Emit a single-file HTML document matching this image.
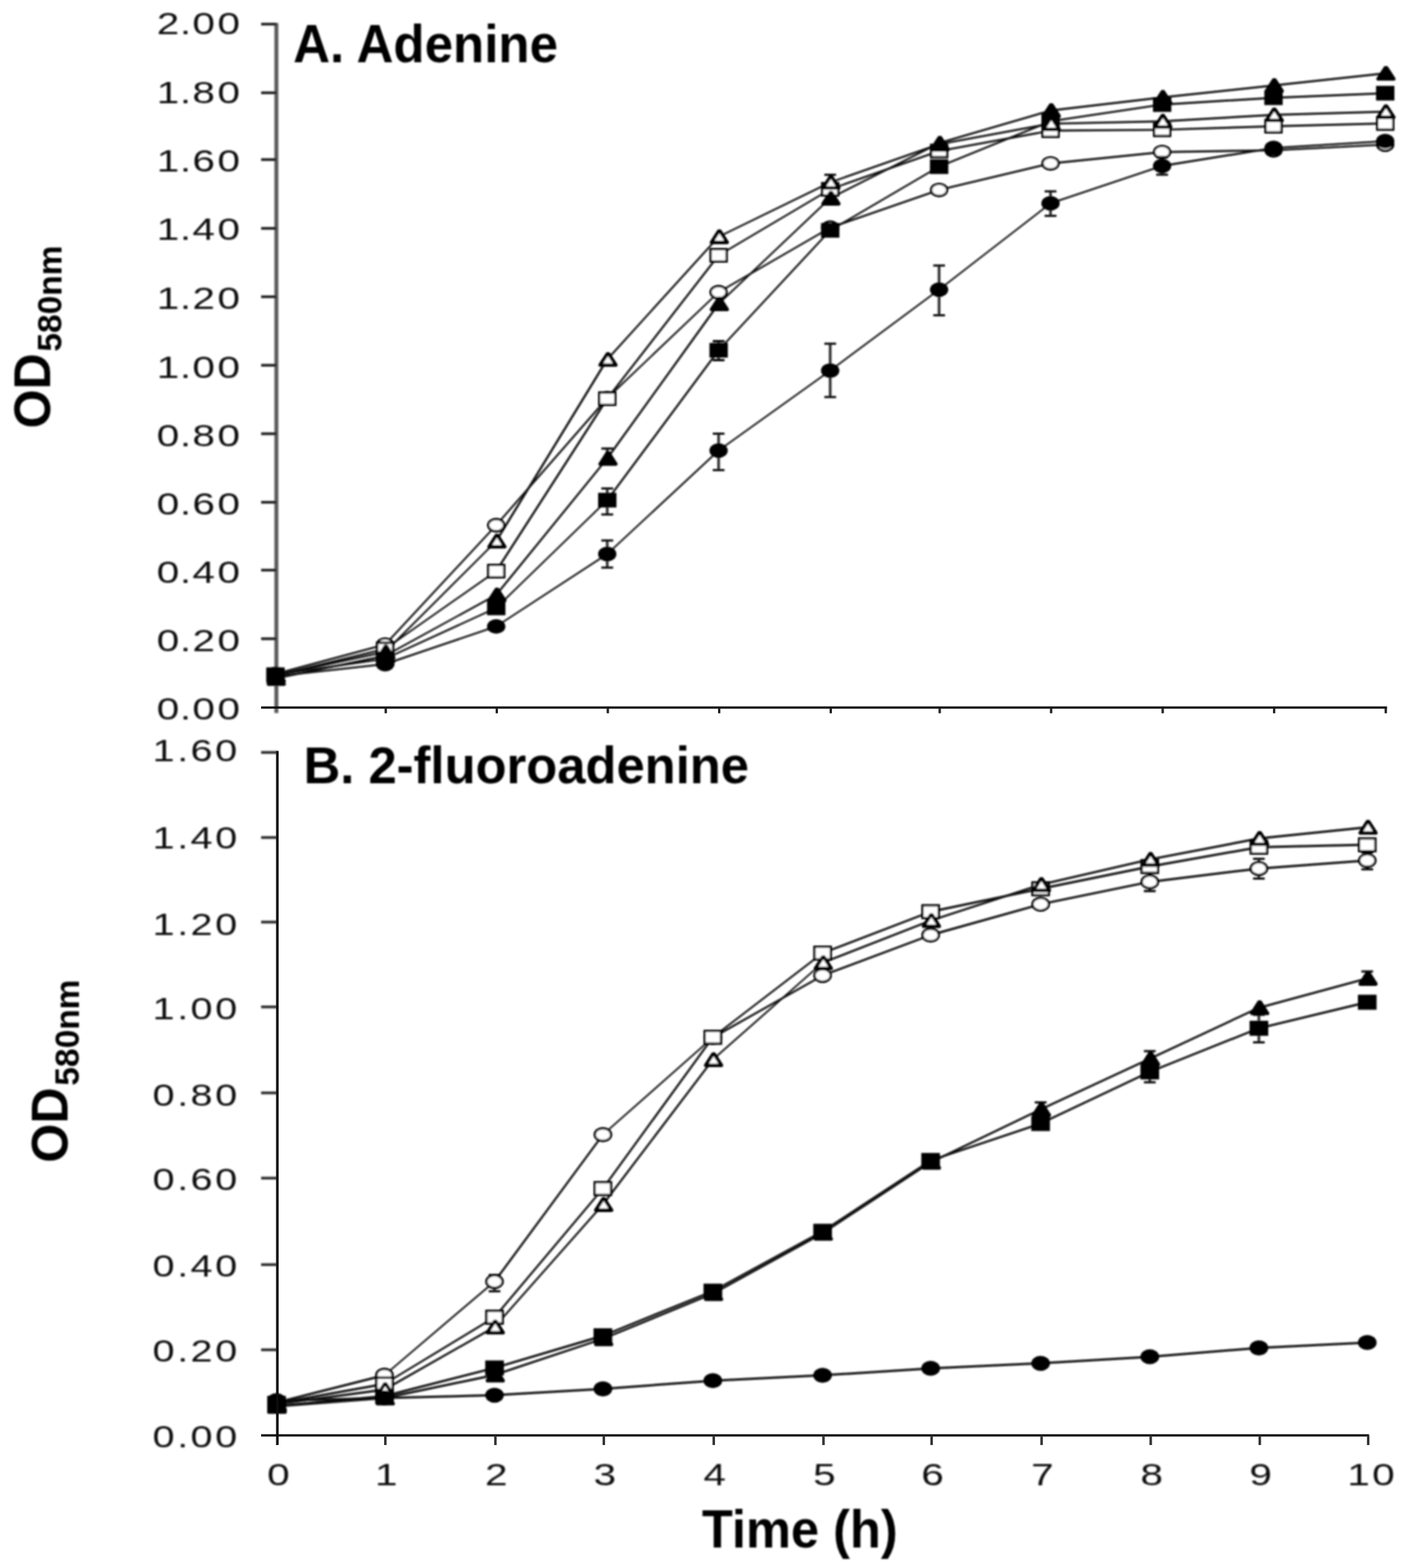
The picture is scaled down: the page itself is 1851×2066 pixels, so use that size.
<!DOCTYPE html>
<html lang="en"><head><meta charset="utf-8"><title>Growth curves</title>
<style>
html,body{margin:0;padding:0;background:#fff;}
body{width:1851px;height:2066px;overflow:hidden;}
svg{display:block;}
text{font-family:"Liberation Sans",Arial,Helvetica,sans-serif;fill:#000;}
.tk{font-weight:400;fill:#111;}
.b{font-weight:700;}
</style></head><body>
<svg width="1851" height="2066" viewBox="0 0 1851 2066">
<defs><filter id="bl" x="-2%" y="-2%" width="104%" height="104%"><feGaussianBlur stdDeviation="0.9"/></filter><filter id="bl2" x="-2%" y="-2%" width="104%" height="104%"><feGaussianBlur stdDeviation="0.45"/></filter></defs>
<rect width="1851" height="2066" fill="#fff"/>
<g filter="url(#bl)">
<line x1="364.1" y1="30.2" x2="364.1" y2="939.6" stroke="#5a5a5a" stroke-width="5.2"/>
<line x1="344" y1="31.8" x2="364" y2="31.8" stroke="#1c1c1c" stroke-width="3.5"/>
<text transform="translate(286.5,45.0) scale(1.3,1)" x="-61.54 -38.00 -25.31 0.00" font-size="41" class="tk">2.00</text>
<line x1="344" y1="122.3" x2="364" y2="122.3" stroke="#1c1c1c" stroke-width="3.5"/>
<text transform="translate(286.5,135.5) scale(1.3,1)" x="-61.54 -38.00 -25.31 0.00" font-size="41" class="tk">1.80</text>
<line x1="344" y1="210.3" x2="364" y2="210.3" stroke="#1c1c1c" stroke-width="3.5"/>
<text transform="translate(286.5,226.3) scale(1.3,1)" x="-61.54 -38.00 -25.31 0.00" font-size="41" class="tk">1.60</text>
<line x1="344" y1="300.9" x2="364" y2="300.9" stroke="#1c1c1c" stroke-width="3.5"/>
<text transform="translate(286.5,316.0) scale(1.3,1)" x="-61.54 -38.00 -25.31 0.00" font-size="41" class="tk">1.40</text>
<line x1="344" y1="391.0" x2="364" y2="391.0" stroke="#1c1c1c" stroke-width="3.5"/>
<text transform="translate(286.5,407.2) scale(1.3,1)" x="-61.54 -38.00 -25.31 0.00" font-size="41" class="tk">1.20</text>
<line x1="344" y1="481.3" x2="364" y2="481.3" stroke="#1c1c1c" stroke-width="3.5"/>
<text transform="translate(286.5,497.8) scale(1.3,1)" x="-61.54 -38.00 -25.31 0.00" font-size="41" class="tk">1.00</text>
<line x1="344" y1="571.5" x2="364" y2="571.5" stroke="#1c1c1c" stroke-width="3.5"/>
<text transform="translate(286.5,588.2) scale(1.3,1)" x="-61.54 -38.00 -25.31 0.00" font-size="41" class="tk">0.80</text>
<line x1="344" y1="661.8" x2="364" y2="661.8" stroke="#1c1c1c" stroke-width="3.5"/>
<text transform="translate(286.5,678.1) scale(1.3,1)" x="-61.54 -38.00 -25.31 0.00" font-size="41" class="tk">0.60</text>
<line x1="344" y1="751.2" x2="364" y2="751.2" stroke="#1c1c1c" stroke-width="3.5"/>
<text transform="translate(286.5,767.5) scale(1.3,1)" x="-61.54 -38.00 -25.31 0.00" font-size="41" class="tk">0.40</text>
<line x1="344" y1="841.6" x2="364" y2="841.6" stroke="#1c1c1c" stroke-width="3.5"/>
<text transform="translate(286.5,857.9) scale(1.3,1)" x="-61.54 -38.00 -25.31 0.00" font-size="41" class="tk">0.20</text>
<text transform="translate(286.5,947.9) scale(1.3,1)" x="-61.54 -38.00 -25.31 0.00" font-size="41" class="tk">0.00</text>
<g stroke="#0c0c0c" stroke-linecap="round"><line x1="363.0" y1="888.0" x2="507.4" y2="849.3" stroke-width="2.61"/><line x1="507.4" y1="849.3" x2="653.7" y2="692.0" stroke-width="2.45"/><line x1="653.7" y1="692.0" x2="800.0" y2="524.6" stroke-width="2.52"/><line x1="800.0" y1="524.6" x2="946.7" y2="385.0" stroke-width="2.31"/><line x1="946.7" y1="385.0" x2="1093.7" y2="300.0" stroke-width="2.34"/><line x1="1093.7" y1="300.0" x2="1237.2" y2="250.3" stroke-width="2.55"/><line x1="1237.2" y1="250.3" x2="1384.0" y2="215.3" stroke-width="2.63"/><line x1="1384.0" y1="215.3" x2="1531.0" y2="200.3" stroke-width="2.69"/><line x1="1531.0" y1="200.3" x2="1677.8" y2="198.0" stroke-width="2.70"/><line x1="1677.8" y1="198.0" x2="1824.9" y2="190.5" stroke-width="2.70"/></g>
<g stroke="#0c0c0c" stroke-linecap="round"><line x1="363.0" y1="890.0" x2="507.4" y2="855.0" stroke-width="2.62"/><line x1="507.4" y1="855.0" x2="653.7" y2="752.5" stroke-width="2.21"/><line x1="653.7" y1="752.5" x2="800.0" y2="525.3" stroke-width="2.82"/><line x1="800.0" y1="525.3" x2="946.7" y2="336.4" stroke-width="2.65"/><line x1="946.7" y1="336.4" x2="1093.7" y2="249.4" stroke-width="2.32"/><line x1="1093.7" y1="249.4" x2="1237.2" y2="199.0" stroke-width="2.55"/><line x1="1237.2" y1="199.0" x2="1384.0" y2="172.2" stroke-width="2.66"/><line x1="1384.0" y1="172.2" x2="1531.0" y2="171.0" stroke-width="2.70"/><line x1="1531.0" y1="171.0" x2="1677.8" y2="166.3" stroke-width="2.70"/><line x1="1677.8" y1="166.3" x2="1824.9" y2="162.7" stroke-width="2.70"/></g>
<g stroke="#0c0c0c" stroke-linecap="round"><line x1="363.0" y1="889.0" x2="507.4" y2="868.0" stroke-width="2.67"/><line x1="507.4" y1="868.0" x2="653.7" y2="801.0" stroke-width="2.45"/><line x1="653.7" y1="801.0" x2="800.0" y2="659.0" stroke-width="2.33"/><line x1="800.0" y1="659.0" x2="946.7" y2="461.5" stroke-width="2.69"/><line x1="946.7" y1="461.5" x2="1093.7" y2="303.5" stroke-width="2.45"/><line x1="1093.7" y1="303.5" x2="1237.2" y2="219.6" stroke-width="2.33"/><line x1="1237.2" y1="219.6" x2="1384.0" y2="159.8" stroke-width="2.50"/><line x1="1384.0" y1="159.8" x2="1531.0" y2="137.8" stroke-width="2.67"/><line x1="1531.0" y1="137.8" x2="1677.8" y2="128.8" stroke-width="2.69"/><line x1="1677.8" y1="128.8" x2="1824.9" y2="122.8" stroke-width="2.70"/></g>
<g stroke="#0c0c0c" stroke-linecap="round"><line x1="363.0" y1="890.0" x2="507.4" y2="859.0" stroke-width="2.64"/><line x1="507.4" y1="859.0" x2="653.7" y2="713.0" stroke-width="2.37"/><line x1="653.7" y1="713.0" x2="800.0" y2="473.6" stroke-width="2.86"/><line x1="800.0" y1="473.6" x2="946.7" y2="312.0" stroke-width="2.48"/><line x1="946.7" y1="312.0" x2="1093.7" y2="240.4" stroke-width="2.43"/><line x1="1093.7" y1="240.4" x2="1237.2" y2="190.0" stroke-width="2.55"/><line x1="1237.2" y1="190.0" x2="1384.0" y2="163.0" stroke-width="2.66"/><line x1="1384.0" y1="163.0" x2="1531.0" y2="159.8" stroke-width="2.70"/><line x1="1531.0" y1="159.8" x2="1677.8" y2="151.4" stroke-width="2.70"/><line x1="1677.8" y1="151.4" x2="1824.9" y2="147.2" stroke-width="2.70"/></g>
<g stroke="#0c0c0c" stroke-linecap="round"><line x1="363.0" y1="894.0" x2="507.4" y2="864.0" stroke-width="2.64"/><line x1="507.4" y1="864.0" x2="653.7" y2="783.9" stroke-width="2.37"/><line x1="653.7" y1="783.9" x2="800.0" y2="604.0" stroke-width="2.60"/><line x1="800.0" y1="604.0" x2="946.7" y2="400.4" stroke-width="2.72"/><line x1="946.7" y1="400.4" x2="1093.7" y2="261.2" stroke-width="2.30"/><line x1="1093.7" y1="261.2" x2="1237.2" y2="188.6" stroke-width="2.41"/><line x1="1237.2" y1="188.6" x2="1384.0" y2="145.7" stroke-width="2.59"/><line x1="1384.0" y1="145.7" x2="1531.0" y2="128.3" stroke-width="2.68"/><line x1="1531.0" y1="128.3" x2="1677.8" y2="112.6" stroke-width="2.68"/><line x1="1677.8" y1="112.6" x2="1824.9" y2="96.6" stroke-width="2.68"/></g>
<g stroke="#0c0c0c" stroke-linecap="round"><line x1="363.0" y1="891.0" x2="507.4" y2="875.0" stroke-width="2.68"/><line x1="507.4" y1="875.0" x2="653.7" y2="825.4" stroke-width="2.56"/><line x1="653.7" y1="825.4" x2="800.0" y2="730.0" stroke-width="2.26"/><line x1="800.0" y1="730.0" x2="946.7" y2="593.6" stroke-width="2.28"/><line x1="946.7" y1="593.6" x2="1093.7" y2="488.3" stroke-width="2.19"/><line x1="1093.7" y1="488.3" x2="1237.2" y2="381.6" stroke-width="2.17"/><line x1="1237.2" y1="381.6" x2="1384.0" y2="267.9" stroke-width="2.13"/><line x1="1384.0" y1="267.9" x2="1531.0" y2="218.6" stroke-width="2.56"/><line x1="1531.0" y1="218.6" x2="1677.8" y2="195.0" stroke-width="2.67"/><line x1="1677.8" y1="195.0" x2="1824.9" y2="186.0" stroke-width="2.69"/></g>
<ellipse cx="363.0" cy="888.0" rx="10.55" ry="8.10" fill="#fff" stroke="#000" stroke-width="3.1"/>
<ellipse cx="507.4" cy="849.3" rx="10.55" ry="8.10" fill="#fff" stroke="#000" stroke-width="3.1"/>
<ellipse cx="653.7" cy="692.0" rx="10.55" ry="8.10" fill="#fff" stroke="#000" stroke-width="3.1"/>
<ellipse cx="800.0" cy="524.6" rx="10.55" ry="8.10" fill="#fff" stroke="#000" stroke-width="3.1"/>
<ellipse cx="946.7" cy="385.0" rx="10.55" ry="8.10" fill="#fff" stroke="#000" stroke-width="3.1"/>
<ellipse cx="1093.7" cy="300.0" rx="10.55" ry="8.10" fill="#fff" stroke="#000" stroke-width="3.1"/>
<ellipse cx="1237.2" cy="250.3" rx="10.55" ry="8.10" fill="#fff" stroke="#000" stroke-width="3.1"/>
<ellipse cx="1384.0" cy="215.3" rx="10.55" ry="8.10" fill="#fff" stroke="#000" stroke-width="3.1"/>
<ellipse cx="1531.0" cy="200.3" rx="10.55" ry="8.10" fill="#fff" stroke="#000" stroke-width="3.1"/>
<ellipse cx="1677.8" cy="198.0" rx="10.55" ry="8.10" fill="#fff" stroke="#000" stroke-width="3.1"/>
<ellipse cx="1824.9" cy="190.5" rx="10.55" ry="8.10" fill="#fff" stroke="#000" stroke-width="3.1"/>
<rect x="352.4" y="881.9" width="21.1" height="16.2" fill="#fff" stroke="#000" stroke-width="3.1"/>
<rect x="496.8" y="846.9" width="21.1" height="16.2" fill="#fff" stroke="#000" stroke-width="3.1"/>
<rect x="643.2" y="744.4" width="21.1" height="16.2" fill="#fff" stroke="#000" stroke-width="3.1"/>
<rect x="789.5" y="517.2" width="21.1" height="16.2" fill="#fff" stroke="#000" stroke-width="3.1"/>
<rect x="936.2" y="328.3" width="21.1" height="16.2" fill="#fff" stroke="#000" stroke-width="3.1"/>
<rect x="1083.2" y="241.3" width="21.1" height="16.2" fill="#fff" stroke="#000" stroke-width="3.1"/>
<rect x="1226.7" y="190.9" width="21.1" height="16.2" fill="#fff" stroke="#000" stroke-width="3.1"/>
<rect x="1373.5" y="164.1" width="21.1" height="16.2" fill="#fff" stroke="#000" stroke-width="3.1"/>
<rect x="1520.5" y="162.9" width="21.1" height="16.2" fill="#fff" stroke="#000" stroke-width="3.1"/>
<rect x="1667.2" y="158.2" width="21.1" height="16.2" fill="#fff" stroke="#000" stroke-width="3.1"/>
<rect x="1814.4" y="154.6" width="21.1" height="16.2" fill="#fff" stroke="#000" stroke-width="3.1"/>
<path d="M800.0 643.6V677.9" fill="none" stroke="#333" stroke-width="3.5999999999999996"/><path d="M792.2 643.6H807.8M792.2 677.9H807.8" fill="none" stroke="#000" stroke-width="2.8"/>
<path d="M946.7 449.5V474.5" fill="none" stroke="#333" stroke-width="3.5999999999999996"/><path d="M939.0 449.5H954.5M939.0 474.5H954.5" fill="none" stroke="#000" stroke-width="2.8"/>
<rect x="352.4" y="880.9" width="21.1" height="16.2" fill="#000" stroke="#000" stroke-width="3.1"/>
<rect x="496.8" y="859.9" width="21.1" height="16.2" fill="#000" stroke="#000" stroke-width="3.1"/>
<rect x="643.2" y="792.9" width="21.1" height="16.2" fill="#000" stroke="#000" stroke-width="3.1"/>
<rect x="789.5" y="650.9" width="21.1" height="16.2" fill="#000" stroke="#000" stroke-width="3.1"/>
<rect x="936.2" y="453.4" width="21.1" height="16.2" fill="#000" stroke="#000" stroke-width="3.1"/>
<rect x="1083.2" y="295.4" width="21.1" height="16.2" fill="#000" stroke="#000" stroke-width="3.1"/>
<rect x="1226.7" y="211.5" width="21.1" height="16.2" fill="#000" stroke="#000" stroke-width="3.1"/>
<rect x="1373.5" y="151.7" width="21.1" height="16.2" fill="#000" stroke="#000" stroke-width="3.1"/>
<rect x="1520.5" y="129.7" width="21.1" height="16.2" fill="#000" stroke="#000" stroke-width="3.1"/>
<rect x="1667.2" y="120.7" width="21.1" height="16.2" fill="#000" stroke="#000" stroke-width="3.1"/>
<rect x="1814.4" y="114.7" width="21.1" height="16.2" fill="#000" stroke="#000" stroke-width="3.1"/>
<path d="M1093.7 230.3V240.4" fill="none" stroke="#333" stroke-width="3.5999999999999996"/><path d="M1086.0 230.3H1101.5" fill="none" stroke="#000" stroke-width="2.8"/>
<polygon points="363.2,882.6 364.8,882.6 374.4,897.4 353.6,897.4" fill="#fff" stroke="#000" stroke-width="4.6" stroke-linejoin="round"/>
<polygon points="507.6,851.6 509.2,851.6 518.8,866.4 498.0,866.4" fill="#fff" stroke="#000" stroke-width="4.6" stroke-linejoin="round"/>
<polygon points="653.9,705.6 655.5,705.6 665.1,720.4 644.3,720.4" fill="#fff" stroke="#000" stroke-width="4.6" stroke-linejoin="round"/>
<polygon points="800.2,466.2 801.8,466.2 811.4,481.0 790.6,481.0" fill="#fff" stroke="#000" stroke-width="4.6" stroke-linejoin="round"/>
<polygon points="946.9,304.6 948.5,304.6 958.1,319.4 937.3,319.4" fill="#fff" stroke="#000" stroke-width="4.6" stroke-linejoin="round"/>
<polygon points="1093.9,233.0 1095.5,233.0 1105.1,247.8 1084.3,247.8" fill="#fff" stroke="#000" stroke-width="4.6" stroke-linejoin="round"/>
<polygon points="1237.4,182.6 1239.0,182.6 1248.6,197.4 1227.8,197.4" fill="#fff" stroke="#000" stroke-width="4.6" stroke-linejoin="round"/>
<polygon points="1384.2,155.6 1385.8,155.6 1395.4,170.4 1374.6,170.4" fill="#fff" stroke="#000" stroke-width="4.6" stroke-linejoin="round"/>
<polygon points="1531.2,152.4 1532.8,152.4 1542.4,167.2 1521.6,167.2" fill="#fff" stroke="#000" stroke-width="4.6" stroke-linejoin="round"/>
<polygon points="1678.0,144.0 1679.6,144.0 1689.2,158.8 1668.4,158.8" fill="#fff" stroke="#000" stroke-width="4.6" stroke-linejoin="round"/>
<polygon points="1825.1,139.8 1826.7,139.8 1836.3,154.6 1815.5,154.6" fill="#fff" stroke="#000" stroke-width="4.6" stroke-linejoin="round"/>
<path d="M800.0 591.0V604.0" fill="none" stroke="#333" stroke-width="3.5999999999999996"/><path d="M792.2 591.0H807.8" fill="none" stroke="#000" stroke-width="2.8"/>
<polygon points="363.2,886.6 364.8,886.6 374.4,901.4 353.6,901.4" fill="#000" stroke="#000" stroke-width="4.6" stroke-linejoin="round"/>
<polygon points="507.6,856.6 509.2,856.6 518.8,871.4 498.0,871.4" fill="#000" stroke="#000" stroke-width="4.6" stroke-linejoin="round"/>
<polygon points="653.9,776.5 655.5,776.5 665.1,791.3 644.3,791.3" fill="#000" stroke="#000" stroke-width="4.6" stroke-linejoin="round"/>
<polygon points="800.2,596.6 801.8,596.6 811.4,611.4 790.6,611.4" fill="#000" stroke="#000" stroke-width="4.6" stroke-linejoin="round"/>
<polygon points="946.9,393.0 948.5,393.0 958.1,407.8 937.3,407.8" fill="#000" stroke="#000" stroke-width="4.6" stroke-linejoin="round"/>
<polygon points="1093.9,253.8 1095.5,253.8 1105.1,268.6 1084.3,268.6" fill="#000" stroke="#000" stroke-width="4.6" stroke-linejoin="round"/>
<polygon points="1237.4,181.2 1239.0,181.2 1248.6,196.0 1227.8,196.0" fill="#000" stroke="#000" stroke-width="4.6" stroke-linejoin="round"/>
<polygon points="1384.2,138.3 1385.8,138.3 1395.4,153.1 1374.6,153.1" fill="#000" stroke="#000" stroke-width="4.6" stroke-linejoin="round"/>
<polygon points="1531.2,120.9 1532.8,120.9 1542.4,135.7 1521.6,135.7" fill="#000" stroke="#000" stroke-width="4.6" stroke-linejoin="round"/>
<polygon points="1678.0,105.2 1679.6,105.2 1689.2,120.0 1668.4,120.0" fill="#000" stroke="#000" stroke-width="4.6" stroke-linejoin="round"/>
<polygon points="1825.1,89.2 1826.7,89.2 1836.3,104.0 1815.5,104.0" fill="#000" stroke="#000" stroke-width="4.6" stroke-linejoin="round"/>
<path d="M800.0 712.1V747.9" fill="none" stroke="#333" stroke-width="3.5999999999999996"/><path d="M792.2 712.1H807.8M792.2 747.9H807.8" fill="none" stroke="#000" stroke-width="2.8"/>
<path d="M946.7 571.4V619.3" fill="none" stroke="#333" stroke-width="3.5999999999999996"/><path d="M939.0 571.4H954.5M939.0 619.3H954.5" fill="none" stroke="#000" stroke-width="2.8"/>
<path d="M1093.7 452.9V523.1" fill="none" stroke="#333" stroke-width="3.5999999999999996"/><path d="M1086.0 452.9H1101.5M1086.0 523.1H1101.5" fill="none" stroke="#000" stroke-width="2.8"/>
<path d="M1237.2 349.9V415.3" fill="none" stroke="#333" stroke-width="3.5999999999999996"/><path d="M1229.5 349.9H1245.0M1229.5 415.3H1245.0" fill="none" stroke="#000" stroke-width="2.8"/>
<path d="M1384.0 252.1V284.3" fill="none" stroke="#333" stroke-width="3.5999999999999996"/><path d="M1376.2 252.1H1391.8M1376.2 284.3H1391.8" fill="none" stroke="#000" stroke-width="2.8"/>
<path d="M1531.0 207.0V230.2" fill="none" stroke="#333" stroke-width="3.5999999999999996"/><path d="M1523.2 207.0H1538.8M1523.2 230.2H1538.8" fill="none" stroke="#000" stroke-width="2.8"/>
<ellipse cx="363.0" cy="891.0" rx="10.55" ry="8.10" fill="#000" stroke="#000" stroke-width="3.1"/>
<ellipse cx="507.4" cy="875.0" rx="10.55" ry="8.10" fill="#000" stroke="#000" stroke-width="3.1"/>
<ellipse cx="653.7" cy="825.4" rx="10.55" ry="8.10" fill="#000" stroke="#000" stroke-width="3.1"/>
<ellipse cx="800.0" cy="730.0" rx="10.55" ry="8.10" fill="#000" stroke="#000" stroke-width="3.1"/>
<ellipse cx="946.7" cy="593.6" rx="10.55" ry="8.10" fill="#000" stroke="#000" stroke-width="3.1"/>
<ellipse cx="1093.7" cy="488.3" rx="10.55" ry="8.10" fill="#000" stroke="#000" stroke-width="3.1"/>
<ellipse cx="1237.2" cy="381.6" rx="10.55" ry="8.10" fill="#000" stroke="#000" stroke-width="3.1"/>
<ellipse cx="1384.0" cy="267.9" rx="10.55" ry="8.10" fill="#000" stroke="#000" stroke-width="3.1"/>
<ellipse cx="1531.0" cy="218.6" rx="10.55" ry="8.10" fill="#000" stroke="#000" stroke-width="3.1"/>
<ellipse cx="1677.8" cy="195.0" rx="10.55" ry="8.10" fill="#000" stroke="#000" stroke-width="3.1"/>
<ellipse cx="1824.9" cy="186.0" rx="10.55" ry="8.10" fill="#000" stroke="#000" stroke-width="3.1"/>
<text transform="translate(386.2,82.3) scale(0.96,1)" font-size="70.1" class="b">A. Adenine</text>
<g class="b"><text transform="translate(66.3,564.6) rotate(-90) scale(0.955,1)" font-size="69.3">OD</text><text transform="translate(81.3,463.3) rotate(-90) scale(0.98,1)" font-size="45">580nm</text></g>
<line x1="344" y1="991.4" x2="365" y2="991.4" stroke="#2a2a2a" stroke-width="3.6"/>
<text transform="translate(283.6,1003.2) scale(1.27,1)" x="-65.12 -39.37 -25.75 0.00" font-size="41" class="tk">1.60</text>
<line x1="344" y1="1103.5" x2="365" y2="1103.5" stroke="#2a2a2a" stroke-width="3.6"/>
<text transform="translate(283.6,1118.1) scale(1.27,1)" x="-65.12 -39.37 -25.75 0.00" font-size="41" class="tk">1.40</text>
<line x1="344" y1="1214.9" x2="365" y2="1214.9" stroke="#2a2a2a" stroke-width="3.6"/>
<text transform="translate(283.6,1232.0) scale(1.27,1)" x="-65.12 -39.37 -25.75 0.00" font-size="41" class="tk">1.20</text>
<line x1="344" y1="1326.7" x2="365" y2="1326.7" stroke="#2a2a2a" stroke-width="3.6"/>
<text transform="translate(283.6,1342.8) scale(1.27,1)" x="-65.12 -39.37 -25.75 0.00" font-size="41" class="tk">1.00</text>
<line x1="344" y1="1440.0" x2="365" y2="1440.0" stroke="#2a2a2a" stroke-width="3.6"/>
<text transform="translate(283.6,1456.6) scale(1.27,1)" x="-65.12 -39.37 -25.75 0.00" font-size="41" class="tk">0.80</text>
<line x1="344" y1="1552.3" x2="365" y2="1552.3" stroke="#2a2a2a" stroke-width="3.6"/>
<text transform="translate(283.6,1567.6) scale(1.27,1)" x="-65.12 -39.37 -25.75 0.00" font-size="41" class="tk">0.60</text>
<line x1="344" y1="1666.3" x2="365" y2="1666.3" stroke="#2a2a2a" stroke-width="3.6"/>
<text transform="translate(283.6,1681.9) scale(1.27,1)" x="-65.12 -39.37 -25.75 0.00" font-size="41" class="tk">0.40</text>
<line x1="344" y1="1778.5" x2="365" y2="1778.5" stroke="#2a2a2a" stroke-width="3.6"/>
<text transform="translate(283.6,1794.1) scale(1.27,1)" x="-65.12 -39.37 -25.75 0.00" font-size="41" class="tk">0.20</text>
<text transform="translate(283.6,1906.9) scale(1.27,1)" x="-65.12 -39.37 -25.75 0.00" font-size="41" class="tk">0.00</text>
<text transform="translate(351.9,1956.8) scale(1.3,1)" x="0.00" font-size="41" class="tk">0</text>
<text transform="translate(494.1,1956.8) scale(1.3,1)" x="0.00" font-size="41" class="tk">1</text>
<text transform="translate(639.1,1956.8) scale(1.3,1)" x="0.00" font-size="41" class="tk">2</text>
<text transform="translate(781.9,1956.8) scale(1.3,1)" x="0.00" font-size="41" class="tk">3</text>
<text transform="translate(926.7,1956.8) scale(1.3,1)" x="0.00" font-size="41" class="tk">4</text>
<text transform="translate(1071.3,1956.8) scale(1.3,1)" x="0.00" font-size="41" class="tk">5</text>
<text transform="translate(1213.7,1956.8) scale(1.3,1)" x="0.00" font-size="41" class="tk">6</text>
<text transform="translate(1358.6,1956.8) scale(1.3,1)" x="0.00" font-size="41" class="tk">7</text>
<text transform="translate(1502.4,1956.8) scale(1.3,1)" x="0.00" font-size="41" class="tk">8</text>
<text transform="translate(1646.1,1956.8) scale(1.3,1)" x="0.00" font-size="41" class="tk">9</text>
<text transform="translate(1807.7,1956.8) scale(1.3,1)" x="-25.15 0.00" font-size="41" class="tk">10</text>
<g stroke="#0c0c0c" stroke-linecap="round"><line x1="364.3" y1="1848.0" x2="506.5" y2="1812.0" stroke-width="2.91"/><line x1="506.5" y1="1812.0" x2="651.5" y2="1688.6" stroke-width="2.28"/><line x1="651.5" y1="1688.6" x2="794.3" y2="1495.0" stroke-width="2.70"/><line x1="794.3" y1="1495.0" x2="939.1" y2="1367.0" stroke-width="2.25"/><line x1="939.1" y1="1367.0" x2="1083.7" y2="1285.3" stroke-width="2.61"/><line x1="1083.7" y1="1285.3" x2="1226.1" y2="1232.0" stroke-width="2.81"/><line x1="1226.1" y1="1232.0" x2="1371.0" y2="1191.4" stroke-width="2.89"/><line x1="1371.0" y1="1191.4" x2="1514.8" y2="1161.9" stroke-width="2.94"/><line x1="1514.8" y1="1161.9" x2="1658.5" y2="1144.4" stroke-width="2.98"/><line x1="1658.5" y1="1144.4" x2="1801.3" y2="1133.8" stroke-width="2.99"/></g>
<g stroke="#0c0c0c" stroke-linecap="round"><line x1="364.3" y1="1849.0" x2="506.5" y2="1823.5" stroke-width="2.95"/><line x1="506.5" y1="1823.5" x2="651.5" y2="1735.6" stroke-width="2.57"/><line x1="651.5" y1="1735.6" x2="794.3" y2="1566.0" stroke-width="2.56"/><line x1="794.3" y1="1566.0" x2="939.1" y2="1366.7" stroke-width="2.71"/><line x1="939.1" y1="1366.7" x2="1083.7" y2="1255.8" stroke-width="2.38"/><line x1="1083.7" y1="1255.8" x2="1226.1" y2="1201.2" stroke-width="2.80"/><line x1="1226.1" y1="1201.2" x2="1371.0" y2="1171.0" stroke-width="2.94"/><line x1="1371.0" y1="1171.0" x2="1514.8" y2="1141.7" stroke-width="2.94"/><line x1="1514.8" y1="1141.7" x2="1658.5" y2="1116.2" stroke-width="2.95"/><line x1="1658.5" y1="1116.2" x2="1801.3" y2="1113.1" stroke-width="3.00"/></g>
<g stroke="#0c0c0c" stroke-linecap="round"><line x1="364.3" y1="1852.5" x2="506.5" y2="1839.5" stroke-width="2.99"/><line x1="506.5" y1="1839.5" x2="651.5" y2="1802.4" stroke-width="2.91"/><line x1="651.5" y1="1802.4" x2="794.3" y2="1760.0" stroke-width="2.88"/><line x1="794.3" y1="1760.0" x2="939.1" y2="1701.2" stroke-width="2.78"/><line x1="939.1" y1="1701.2" x2="1083.7" y2="1622.3" stroke-width="2.63"/><line x1="1083.7" y1="1622.3" x2="1226.1" y2="1529.0" stroke-width="2.51"/><line x1="1226.1" y1="1529.0" x2="1371.0" y2="1480.3" stroke-width="2.84"/><line x1="1371.0" y1="1480.3" x2="1514.8" y2="1412.3" stroke-width="2.71"/><line x1="1514.8" y1="1412.3" x2="1658.5" y2="1354.8" stroke-width="2.79"/><line x1="1658.5" y1="1354.8" x2="1801.3" y2="1320.5" stroke-width="2.92"/></g>
<g stroke="#0c0c0c" stroke-linecap="round"><line x1="364.3" y1="1850.0" x2="506.5" y2="1831.0" stroke-width="2.97"/><line x1="506.5" y1="1831.0" x2="651.5" y2="1748.5" stroke-width="2.61"/><line x1="651.5" y1="1748.5" x2="794.3" y2="1587.1" stroke-width="2.51"/><line x1="794.3" y1="1587.1" x2="939.1" y2="1396.2" stroke-width="2.67"/><line x1="939.1" y1="1396.2" x2="1083.7" y2="1268.5" stroke-width="2.25"/><line x1="1083.7" y1="1268.5" x2="1226.1" y2="1213.0" stroke-width="2.80"/><line x1="1226.1" y1="1213.0" x2="1371.0" y2="1165.6" stroke-width="2.85"/><line x1="1371.0" y1="1165.6" x2="1514.8" y2="1132.4" stroke-width="2.92"/><line x1="1514.8" y1="1132.4" x2="1658.5" y2="1104.8" stroke-width="2.95"/><line x1="1658.5" y1="1104.8" x2="1801.3" y2="1090.0" stroke-width="2.98"/></g>
<g stroke="#0c0c0c" stroke-linecap="round"><line x1="364.3" y1="1853.0" x2="506.5" y2="1842.0" stroke-width="2.99"/><line x1="506.5" y1="1842.0" x2="651.5" y2="1811.7" stroke-width="2.94"/><line x1="651.5" y1="1811.7" x2="794.3" y2="1764.0" stroke-width="2.85"/><line x1="794.3" y1="1764.0" x2="939.1" y2="1704.5" stroke-width="2.77"/><line x1="939.1" y1="1704.5" x2="1083.7" y2="1625.0" stroke-width="2.63"/><line x1="1083.7" y1="1625.0" x2="1226.1" y2="1531.5" stroke-width="2.51"/><line x1="1226.1" y1="1531.5" x2="1371.0" y2="1461.8" stroke-width="2.70"/><line x1="1371.0" y1="1461.8" x2="1514.8" y2="1395.0" stroke-width="2.72"/><line x1="1514.8" y1="1395.0" x2="1658.5" y2="1327.8" stroke-width="2.72"/><line x1="1658.5" y1="1327.8" x2="1801.3" y2="1289.1" stroke-width="2.90"/></g>
<g stroke="#0c0c0c" stroke-linecap="round"><line x1="364.3" y1="1845.5" x2="506.5" y2="1842.0" stroke-width="3.00"/><line x1="506.5" y1="1842.0" x2="651.5" y2="1838.3" stroke-width="3.00"/><line x1="651.5" y1="1838.3" x2="794.3" y2="1830.0" stroke-width="2.99"/><line x1="794.3" y1="1830.0" x2="939.1" y2="1819.2" stroke-width="2.99"/><line x1="939.1" y1="1819.2" x2="1083.7" y2="1812.1" stroke-width="3.00"/><line x1="1083.7" y1="1812.1" x2="1226.1" y2="1802.9" stroke-width="2.99"/><line x1="1226.1" y1="1802.9" x2="1371.0" y2="1796.3" stroke-width="3.00"/><line x1="1371.0" y1="1796.3" x2="1514.8" y2="1787.7" stroke-width="2.99"/><line x1="1514.8" y1="1787.7" x2="1658.5" y2="1776.0" stroke-width="2.99"/><line x1="1658.5" y1="1776.0" x2="1801.3" y2="1768.9" stroke-width="3.00"/></g>
<path d="M651.5 1680.0V1701.4" fill="none" stroke="#333" stroke-width="3.5999999999999996"/><path d="M643.8 1680.0H659.2M643.8 1701.4H659.2" fill="none" stroke="#000" stroke-width="2.8"/>
<path d="M1514.8 1150.0V1174.0" fill="none" stroke="#333" stroke-width="3.5999999999999996"/><path d="M1507.0 1150.0H1522.5M1507.0 1174.0H1522.5" fill="none" stroke="#000" stroke-width="2.8"/>
<path d="M1658.5 1131.6V1157.6" fill="none" stroke="#333" stroke-width="3.5999999999999996"/><path d="M1650.8 1131.6H1666.2M1650.8 1157.6H1666.2" fill="none" stroke="#000" stroke-width="2.8"/>
<path d="M1801.3 1123.3V1145.3" fill="none" stroke="#333" stroke-width="3.5999999999999996"/><path d="M1793.5 1123.3H1809.0M1793.5 1145.3H1809.0" fill="none" stroke="#000" stroke-width="2.8"/>
<ellipse cx="364.3" cy="1848.0" rx="10.75" ry="8.35" fill="#fff" stroke="#000" stroke-width="3.1"/>
<ellipse cx="506.5" cy="1812.0" rx="10.75" ry="8.35" fill="#fff" stroke="#000" stroke-width="3.1"/>
<ellipse cx="651.5" cy="1688.6" rx="10.75" ry="8.35" fill="#fff" stroke="#000" stroke-width="3.1"/>
<ellipse cx="794.3" cy="1495.0" rx="10.75" ry="8.35" fill="#fff" stroke="#000" stroke-width="3.1"/>
<ellipse cx="939.1" cy="1367.0" rx="10.75" ry="8.35" fill="#fff" stroke="#000" stroke-width="3.1"/>
<ellipse cx="1083.7" cy="1285.3" rx="10.75" ry="8.35" fill="#fff" stroke="#000" stroke-width="3.1"/>
<ellipse cx="1226.1" cy="1232.0" rx="10.75" ry="8.35" fill="#fff" stroke="#000" stroke-width="3.1"/>
<ellipse cx="1371.0" cy="1191.4" rx="10.75" ry="8.35" fill="#fff" stroke="#000" stroke-width="3.1"/>
<ellipse cx="1514.8" cy="1161.9" rx="10.75" ry="8.35" fill="#fff" stroke="#000" stroke-width="3.1"/>
<ellipse cx="1658.5" cy="1144.4" rx="10.75" ry="8.35" fill="#fff" stroke="#000" stroke-width="3.1"/>
<ellipse cx="1801.3" cy="1133.8" rx="10.75" ry="8.35" fill="#fff" stroke="#000" stroke-width="3.1"/>
<rect x="353.6" y="1840.7" width="21.5" height="16.7" fill="#fff" stroke="#000" stroke-width="3.1"/>
<rect x="495.8" y="1815.2" width="21.5" height="16.7" fill="#fff" stroke="#000" stroke-width="3.1"/>
<rect x="640.8" y="1727.2" width="21.5" height="16.7" fill="#fff" stroke="#000" stroke-width="3.1"/>
<rect x="783.5" y="1557.7" width="21.5" height="16.7" fill="#fff" stroke="#000" stroke-width="3.1"/>
<rect x="928.4" y="1358.4" width="21.5" height="16.7" fill="#fff" stroke="#000" stroke-width="3.1"/>
<rect x="1073.0" y="1247.5" width="21.5" height="16.7" fill="#fff" stroke="#000" stroke-width="3.1"/>
<rect x="1215.3" y="1192.9" width="21.5" height="16.7" fill="#fff" stroke="#000" stroke-width="3.1"/>
<rect x="1360.2" y="1162.7" width="21.5" height="16.7" fill="#fff" stroke="#000" stroke-width="3.1"/>
<rect x="1504.0" y="1133.4" width="21.5" height="16.7" fill="#fff" stroke="#000" stroke-width="3.1"/>
<rect x="1647.8" y="1107.9" width="21.5" height="16.7" fill="#fff" stroke="#000" stroke-width="3.1"/>
<rect x="1790.5" y="1104.8" width="21.5" height="16.7" fill="#fff" stroke="#000" stroke-width="3.1"/>
<path d="M1514.8 1412.3V1426.0" fill="none" stroke="#333" stroke-width="3.5999999999999996"/><path d="M1507.0 1426.0H1522.5" fill="none" stroke="#000" stroke-width="2.8"/>
<path d="M1658.5 1337.0V1373.3" fill="none" stroke="#333" stroke-width="3.5999999999999996"/><path d="M1650.8 1337.0H1666.2M1650.8 1373.3H1666.2" fill="none" stroke="#000" stroke-width="2.8"/>
<rect x="353.6" y="1844.2" width="21.5" height="16.7" fill="#000" stroke="#000" stroke-width="3.1"/>
<rect x="495.8" y="1831.2" width="21.5" height="16.7" fill="#000" stroke="#000" stroke-width="3.1"/>
<rect x="640.8" y="1794.1" width="21.5" height="16.7" fill="#000" stroke="#000" stroke-width="3.1"/>
<rect x="783.5" y="1751.7" width="21.5" height="16.7" fill="#000" stroke="#000" stroke-width="3.1"/>
<rect x="928.4" y="1692.9" width="21.5" height="16.7" fill="#000" stroke="#000" stroke-width="3.1"/>
<rect x="1073.0" y="1614.0" width="21.5" height="16.7" fill="#000" stroke="#000" stroke-width="3.1"/>
<rect x="1215.3" y="1520.7" width="21.5" height="16.7" fill="#000" stroke="#000" stroke-width="3.1"/>
<rect x="1360.2" y="1472.0" width="21.5" height="16.7" fill="#000" stroke="#000" stroke-width="3.1"/>
<rect x="1504.0" y="1404.0" width="21.5" height="16.7" fill="#000" stroke="#000" stroke-width="3.1"/>
<rect x="1647.8" y="1346.5" width="21.5" height="16.7" fill="#000" stroke="#000" stroke-width="3.1"/>
<rect x="1790.5" y="1312.2" width="21.5" height="16.7" fill="#000" stroke="#000" stroke-width="3.1"/>
<polygon points="364.5,1842.5 366.1,1842.5 375.7,1857.5 354.9,1857.5" fill="#fff" stroke="#000" stroke-width="4.6" stroke-linejoin="round"/>
<polygon points="506.7,1823.5 508.3,1823.5 517.9,1838.5 497.1,1838.5" fill="#fff" stroke="#000" stroke-width="4.6" stroke-linejoin="round"/>
<polygon points="651.7,1741.0 653.3,1741.0 662.9,1756.0 642.1,1756.0" fill="#fff" stroke="#000" stroke-width="4.6" stroke-linejoin="round"/>
<polygon points="794.5,1579.6 796.1,1579.6 805.7,1594.6 784.9,1594.6" fill="#fff" stroke="#000" stroke-width="4.6" stroke-linejoin="round"/>
<polygon points="939.3,1388.7 940.9,1388.7 950.5,1403.7 929.7,1403.7" fill="#fff" stroke="#000" stroke-width="4.6" stroke-linejoin="round"/>
<polygon points="1083.9,1261.0 1085.5,1261.0 1095.1,1276.0 1074.3,1276.0" fill="#fff" stroke="#000" stroke-width="4.6" stroke-linejoin="round"/>
<polygon points="1226.3,1205.5 1227.9,1205.5 1237.5,1220.5 1216.7,1220.5" fill="#fff" stroke="#000" stroke-width="4.6" stroke-linejoin="round"/>
<polygon points="1371.2,1158.1 1372.8,1158.1 1382.4,1173.1 1361.6,1173.1" fill="#fff" stroke="#000" stroke-width="4.6" stroke-linejoin="round"/>
<polygon points="1515.0,1124.9 1516.6,1124.9 1526.2,1139.9 1505.4,1139.9" fill="#fff" stroke="#000" stroke-width="4.6" stroke-linejoin="round"/>
<polygon points="1658.7,1097.3 1660.3,1097.3 1669.9,1112.3 1649.1,1112.3" fill="#fff" stroke="#000" stroke-width="4.6" stroke-linejoin="round"/>
<polygon points="1801.5,1082.5 1803.1,1082.5 1812.7,1097.5 1791.9,1097.5" fill="#fff" stroke="#000" stroke-width="4.6" stroke-linejoin="round"/>
<path d="M1371.0 1452.5V1461.8" fill="none" stroke="#333" stroke-width="3.5999999999999996"/><path d="M1363.2 1452.5H1378.8" fill="none" stroke="#000" stroke-width="2.8"/>
<path d="M1514.8 1385.0V1395.0" fill="none" stroke="#333" stroke-width="3.5999999999999996"/><path d="M1507.0 1385.0H1522.5" fill="none" stroke="#000" stroke-width="2.8"/>
<path d="M1801.3 1280.0V1289.1" fill="none" stroke="#333" stroke-width="3.5999999999999996"/><path d="M1793.5 1280.0H1809.0" fill="none" stroke="#000" stroke-width="2.8"/>
<polygon points="364.5,1845.5 366.1,1845.5 375.7,1860.5 354.9,1860.5" fill="#000" stroke="#000" stroke-width="4.6" stroke-linejoin="round"/>
<polygon points="506.7,1834.5 508.3,1834.5 517.9,1849.5 497.1,1849.5" fill="#000" stroke="#000" stroke-width="4.6" stroke-linejoin="round"/>
<polygon points="651.7,1804.2 653.3,1804.2 662.9,1819.2 642.1,1819.2" fill="#000" stroke="#000" stroke-width="4.6" stroke-linejoin="round"/>
<polygon points="794.5,1756.5 796.1,1756.5 805.7,1771.5 784.9,1771.5" fill="#000" stroke="#000" stroke-width="4.6" stroke-linejoin="round"/>
<polygon points="939.3,1697.0 940.9,1697.0 950.5,1712.0 929.7,1712.0" fill="#000" stroke="#000" stroke-width="4.6" stroke-linejoin="round"/>
<polygon points="1083.9,1617.5 1085.5,1617.5 1095.1,1632.5 1074.3,1632.5" fill="#000" stroke="#000" stroke-width="4.6" stroke-linejoin="round"/>
<polygon points="1226.3,1524.0 1227.9,1524.0 1237.5,1539.0 1216.7,1539.0" fill="#000" stroke="#000" stroke-width="4.6" stroke-linejoin="round"/>
<polygon points="1371.2,1454.3 1372.8,1454.3 1382.4,1469.3 1361.6,1469.3" fill="#000" stroke="#000" stroke-width="4.6" stroke-linejoin="round"/>
<polygon points="1515.0,1387.5 1516.6,1387.5 1526.2,1402.5 1505.4,1402.5" fill="#000" stroke="#000" stroke-width="4.6" stroke-linejoin="round"/>
<polygon points="1658.7,1320.3 1660.3,1320.3 1669.9,1335.3 1649.1,1335.3" fill="#000" stroke="#000" stroke-width="4.6" stroke-linejoin="round"/>
<polygon points="1801.5,1281.6 1803.1,1281.6 1812.7,1296.6 1791.9,1296.6" fill="#000" stroke="#000" stroke-width="4.6" stroke-linejoin="round"/>
<ellipse cx="364.3" cy="1845.5" rx="10.75" ry="8.35" fill="#000" stroke="#000" stroke-width="3.1"/>
<ellipse cx="506.5" cy="1842.0" rx="10.75" ry="8.35" fill="#000" stroke="#000" stroke-width="3.1"/>
<ellipse cx="651.5" cy="1838.3" rx="10.75" ry="8.35" fill="#000" stroke="#000" stroke-width="3.1"/>
<ellipse cx="794.3" cy="1830.0" rx="10.75" ry="8.35" fill="#000" stroke="#000" stroke-width="3.1"/>
<ellipse cx="939.1" cy="1819.2" rx="10.75" ry="8.35" fill="#000" stroke="#000" stroke-width="3.1"/>
<ellipse cx="1083.7" cy="1812.1" rx="10.75" ry="8.35" fill="#000" stroke="#000" stroke-width="3.1"/>
<ellipse cx="1226.1" cy="1802.9" rx="10.75" ry="8.35" fill="#000" stroke="#000" stroke-width="3.1"/>
<ellipse cx="1371.0" cy="1796.3" rx="10.75" ry="8.35" fill="#000" stroke="#000" stroke-width="3.1"/>
<ellipse cx="1514.8" cy="1787.7" rx="10.75" ry="8.35" fill="#000" stroke="#000" stroke-width="3.1"/>
<ellipse cx="1658.5" cy="1776.0" rx="10.75" ry="8.35" fill="#000" stroke="#000" stroke-width="3.1"/>
<ellipse cx="1801.3" cy="1768.9" rx="10.75" ry="8.35" fill="#000" stroke="#000" stroke-width="3.1"/>
<text transform="translate(400,1032.3) scale(0.969,1)" font-size="69" class="b">B. 2-fluoroadenine</text>
<g class="b"><text transform="translate(89.3,1531.9) rotate(-90) scale(0.955,1)" font-size="69.3">OD</text><text transform="translate(104.3,1430.4) rotate(-90) scale(0.98,1)" font-size="45">580nm</text></g>
<text transform="translate(924.8,2039.2) scale(0.945,1)" font-size="70.5" class="b">Time (h)</text>
</g>
<g filter="url(#bl2)"><line x1="344" y1="932.2" x2="1827.3" y2="932.2" stroke="#0a0a0a" stroke-width="3.1"/>
<line x1="508.2" y1="932.2" x2="508.2" y2="939.8" stroke="#222" stroke-width="3.1"/>
<line x1="654.5" y1="932.2" x2="654.5" y2="939.8" stroke="#222" stroke-width="3.1"/>
<line x1="800.8" y1="932.2" x2="800.8" y2="939.8" stroke="#222" stroke-width="3.1"/>
<line x1="947.5" y1="932.2" x2="947.5" y2="939.8" stroke="#222" stroke-width="3.1"/>
<line x1="1094.5" y1="932.2" x2="1094.5" y2="939.8" stroke="#222" stroke-width="3.1"/>
<line x1="1238.0" y1="932.2" x2="1238.0" y2="939.8" stroke="#222" stroke-width="3.1"/>
<line x1="1384.8" y1="932.2" x2="1384.8" y2="939.8" stroke="#222" stroke-width="3.1"/>
<line x1="1531.8" y1="932.2" x2="1531.8" y2="939.8" stroke="#222" stroke-width="3.1"/>
<line x1="1678.6" y1="932.2" x2="1678.6" y2="939.8" stroke="#222" stroke-width="3.1"/>
<line x1="1825.7" y1="932.2" x2="1825.7" y2="939.8" stroke="#222" stroke-width="3.1"/>
<line x1="365.4" y1="989.6" x2="365.4" y2="1904" stroke="#0a0a0a" stroke-width="3.4"/>
<line x1="344" y1="1891.2" x2="1803.6" y2="1891.2" stroke="#0a0a0a" stroke-width="3.1"/>
<line x1="507.7" y1="1891.2" x2="507.7" y2="1904" stroke="#333" stroke-width="3.3"/>
<line x1="652.7" y1="1891.2" x2="652.7" y2="1904" stroke="#333" stroke-width="3.3"/>
<line x1="795.5" y1="1891.2" x2="795.5" y2="1904" stroke="#333" stroke-width="3.3"/>
<line x1="940.3" y1="1891.2" x2="940.3" y2="1904" stroke="#333" stroke-width="3.3"/>
<line x1="1084.9" y1="1891.2" x2="1084.9" y2="1904" stroke="#333" stroke-width="3.3"/>
<line x1="1227.3" y1="1891.2" x2="1227.3" y2="1904" stroke="#333" stroke-width="3.3"/>
<line x1="1372.2" y1="1891.2" x2="1372.2" y2="1904" stroke="#333" stroke-width="3.3"/>
<line x1="1516.0" y1="1891.2" x2="1516.0" y2="1904" stroke="#333" stroke-width="3.3"/>
<line x1="1659.7" y1="1891.2" x2="1659.7" y2="1904" stroke="#333" stroke-width="3.3"/>
<line x1="1802.5" y1="1891.2" x2="1802.5" y2="1904" stroke="#333" stroke-width="3.3"/></g>
</svg></body></html>
